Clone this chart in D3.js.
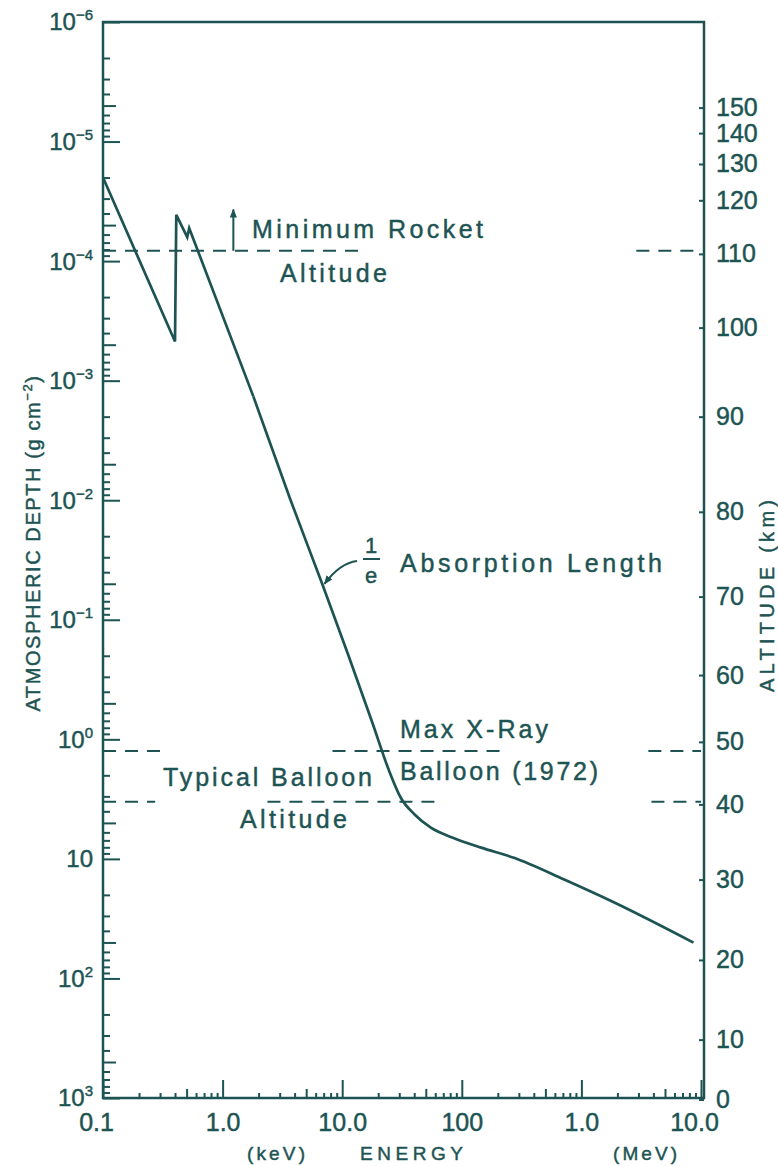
<!DOCTYPE html>
<html>
<head>
<meta charset="utf-8">
<script src="https://cdn.jsdelivr.net/npm/d3@7"></script>
<style>
  body { margin: 0; background: #fff; }
  svg text {
    font-family: "Liberation Sans", Arial, Helvetica, sans-serif;
    fill: #1d5453; stroke: #1d5453; stroke-width: 0.45px; paint-order: stroke;
  }
</style>
</head>
<body>
<div id="chart"></div>
<script>
// absorption curve: photon energy (keV) vs atmospheric depth (g cm^-2) at 1/e
const energyKeV = [0.1, 0.40, 0.41, 0.506, 0.526, 1.81, 3.69, 6.85, 11.3, 18.0, 24.5, 30.9, 40.5, 55.1, 84.2, 145, 273, 718, 1884, 8650];
const depthGcm2 = [2.0e-5, 4.7e-4, 4.1e-5, 6.3e-5, 5.3e-5, 1.36e-3, 9.9e-3, 0.051, 0.20, 0.741, 1.80, 3.08, 4.27, 5.48, 6.65, 8.05, 9.8, 14.9, 23.2, 50.2];
const edgeCount = 6; // first points are straight segments (absorption edges)

// altitude scale on the right, with the depth each altitude corresponds to
const altitudeKm = [0, 10, 20, 30, 40, 50, 60, 70, 80, 90, 100, 110, 120, 130, 140, 150];
const altitudeDepth = [1030, 325, 70, 14.9, 3.5, 1.05, 0.29, 0.064, 0.0125, 2.0e-3, 3.6e-4, 8.7e-5, 3.1e-5, 1.54e-5, 8.5e-6, 5.2e-6];

// left axis ticks
const depthTicks = [1e-6, 1e-5, 1e-4, 1e-3, 1e-2, 1e-1, 1, 10, 100, 1000];
const depthTickExp = ["−6", "−5", "−4", "−3", "−2", "−1", "0", "", "2", "3"];

// bottom axis ticks
const energyTicks = [0.1, 1, 10, 100, 1000, 10000];
const energyTickLabels = ["0.1", "1.0", "10.0", "100", "1.0", "10.0"];

// reference levels (depth) and the energy ranges where the dashes are drawn
const rocketDepth = 8.2e-5;
const rocketDashes = [[0.1, 15.1], [2880, 1e4]];
const maxBalloonDepth = 1.25;
const maxBalloonDashes = [[0.1, 0.331], [8.3, 213], [3630, 1e4]];
const typBalloonDepth = 3.32;
const typBalloonDashes = [[0.1, 0.273], [2.37, 64.3], [3850, 1e4]];
const rocketArrow = { energy: 1.23, top: 3.7e-5 };

const W = 778, H = 1166;
const ink = "#1d5453";

const svg = d3.select("#chart").append("svg")
  .attr("width", W).attr("height", H)
  .attr("viewBox", [0, 0, W, H]);

const x = d3.scaleLog().domain([0.1, 1e4]).range([103, 701]);
const y = d3.scaleLog().domain([1e-6, 1e3]).range([22, 1098]);
const alt = d3.scaleLinear().domain(altitudeKm).range(altitudeDepth.map(d => y(d)));
const rightX = 704;

svg.append("defs").append("marker")
  .attr("id", "head")
  .attr("viewBox", "0 0 10 10")
  .attr("refX", 9).attr("refY", 5)
  .attr("markerWidth", 4.5).attr("markerHeight", 4.5)
  .attr("orient", "auto")
  .append("path").attr("d", "M0,1L10,5L0,9Z").attr("fill", ink);

// frame
svg.append("rect")
  .attr("x", x(0.1)).attr("y", y(1e-6))
  .attr("width", rightX - x(0.1)).attr("height", y(1e3) - y(1e-6))
  .attr("fill", "none").attr("stroke", ink).attr("stroke-width", 2.5);

// minor tick values
const yMinor = [], yMid = [];
for (let p = -6; p <= 2; p++) {
  for (let m = 2; m <= 9; m++) (m === 5 ? yMid : yMinor).push(+(m + "e" + p));
}
const xMinor = [], xMid = [];
for (let p = -1; p <= 3; p++) {
  for (let m = 2; m <= 9; m++) (m === 5 ? xMid : xMinor).push(+(m + "e" + p));
}

function tickGroup(axis, tx, ty) {
  const g = svg.append("g").attr("transform", `translate(${tx},${ty})`).call(axis);
  g.select(".domain").remove();
  g.selectAll("line").attr("stroke", ink).attr("stroke-width", 2);
  return g;
}

// left axis (ticks pointing into the plot)
[[depthTicks, 17], [yMid, 13], [yMinor, 7]].forEach(([vals, len]) => {
  tickGroup(d3.axisRight(y).tickValues(vals).tickSize(len).tickFormat(""), x(0.1), 0);
});

const yLabels = svg.append("g").attr("font-size", 24);
depthTicks.forEach((d, i) => {
  const t = yLabels.append("text")
    .attr("x", 93).attr("y", y(d)).attr("dy", "0.35em")
    .attr("text-anchor", "end");
  t.append("tspan").text("10");
  if (depthTickExp[i]) t.append("tspan").attr("font-size", 15).attr("dy", -10).text(depthTickExp[i]);
});

// bottom axis
const lastTick = energyTicks.length - 1;
tickGroup(d3.axisBottom(x).tickValues(energyTicks).tickSizeInner(-18).tickSizeOuter(0)
  .tickPadding(15).tickFormat((d, i) => energyTickLabels[i]), 0, y(1e3))
  .selectAll("text").attr("font-size", 25).attr("fill", ink).attr("font-family", null)
  .attr("dx", (d, i) => (i === 0 || i === lastTick) ? -7 : 0);
tickGroup(d3.axisTop(x).tickValues(xMid).tickSize(9).tickFormat(""), 0, y(1e3));
tickGroup(d3.axisTop(x).tickValues(xMinor).tickSize(5).tickFormat(""), 0, y(1e3));

// right altitude axis
tickGroup(d3.axisRight(alt).tickValues(altitudeKm).tickSizeInner(-5).tickSizeOuter(0)
  .tickPadding(12).tickFormat(d3.format("d")), rightX, 0)
  .selectAll("text").attr("font-size", 25).attr("fill", ink).attr("font-family", null);

// dashed reference levels
const dashes = [[rocketDepth, rocketDashes], [maxBalloonDepth, maxBalloonDashes], [typBalloonDepth, typBalloonDashes]];
dashes.forEach(([depth, segs]) => {
  svg.append("g").selectAll("line").data(segs).join("line")
    .attr("x1", d => x(d[0])).attr("x2", d => Math.min(x(d[1]), rightX))
    .attr("y1", y(depth)).attr("y2", y(depth))
    .attr("stroke", ink).attr("stroke-width", 2)
    .attr("stroke-dasharray", "13,9");
});

// absorption curve
const pts = energyKeV.map((e, i) => [x(e), y(depthGcm2[i])]);
svg.append("path")
  .attr("d", d3.line().curve(d3.curveLinear)(pts.slice(0, edgeCount)))
  .attr("fill", "none").attr("stroke", ink).attr("stroke-width", 2.7).attr("stroke-linejoin", "miter");
svg.append("path")
  .attr("d", d3.line().curve(d3.curveMonotoneX)(pts.slice(edgeCount - 1)))
  .attr("fill", "none").attr("stroke", ink).attr("stroke-width", 2.7);

// minimum rocket arrow
svg.append("line")
  .attr("x1", x(rocketArrow.energy)).attr("x2", x(rocketArrow.energy))
  .attr("y1", y(rocketDepth)).attr("y2", y(rocketArrow.top))
  .attr("stroke", ink).attr("stroke-width", 2).attr("marker-end", "url(#head)");

// annotations
const notes = svg.append("g").attr("font-size", 25);
function note(txt, tx, ty, len) {
  notes.append("text").attr("x", tx).attr("y", ty)
    .attr("textLength", len).attr("lengthAdjust", "spacing").text(txt);
}
note("Minimum Rocket", 252, 238, 231);
note("Altitude", 280, 282, 107);
note("Absorption Length", 400, 572, 262);
note("Max X-Ray", 400, 738, 148);
note("Balloon (1972)", 400, 780, 198);
note("Typical Balloon", 163, 786, 209);
note("Altitude", 240, 828, 107);

// 1/e fraction and leader
const fr = svg.append("g").attr("font-size", 22).attr("text-anchor", "middle");
fr.append("text").attr("x", 371).attr("y", 553).text("1");
fr.append("text").attr("x", 371).attr("y", 583).text("e");
svg.append("line").attr("x1", 363).attr("x2", 380).attr("y1", 559).attr("y2", 559)
  .attr("stroke", ink).attr("stroke-width", 2);
const leaderEnd = [x(energyKeV[7]), y(depthGcm2[7])];
svg.append("path")
  .attr("d", `M357,561 Q340,563 ${leaderEnd[0] + 2},${leaderEnd[1] - 1}`)
  .attr("fill", "none").attr("stroke", ink).attr("stroke-width", 2).attr("marker-end", "url(#head)");

// axis titles
const lt = svg.append("text")
  .attr("transform", "translate(40,543) rotate(-90)")
  .attr("text-anchor", "middle").attr("font-size", 20)
  .attr("letter-spacing", 1.6);
lt.append("tspan").text("ATMOSPHERIC DEPTH (g cm");
lt.append("tspan").attr("font-size", 13).attr("dy", -8).text("−2");
lt.append("tspan").attr("dy", 8).text(")");

svg.append("text")
  .attr("transform", "translate(774,596) rotate(-90)")
  .attr("text-anchor", "middle").attr("font-size", 20)
  .attr("textLength", 192).attr("lengthAdjust", "spacing")
  .text("ALTITUDE (km)");

const units = svg.append("g").attr("font-size", 19);
units.append("text").attr("x", 247).attr("y", 1160).attr("textLength", 58).text("(keV)");
units.append("text").attr("x", 360).attr("y", 1160).attr("textLength", 103).text("ENERGY");
units.append("text").attr("x", 613).attr("y", 1160).attr("textLength", 64).text("(MeV)");
</script>
</body>
</html>
